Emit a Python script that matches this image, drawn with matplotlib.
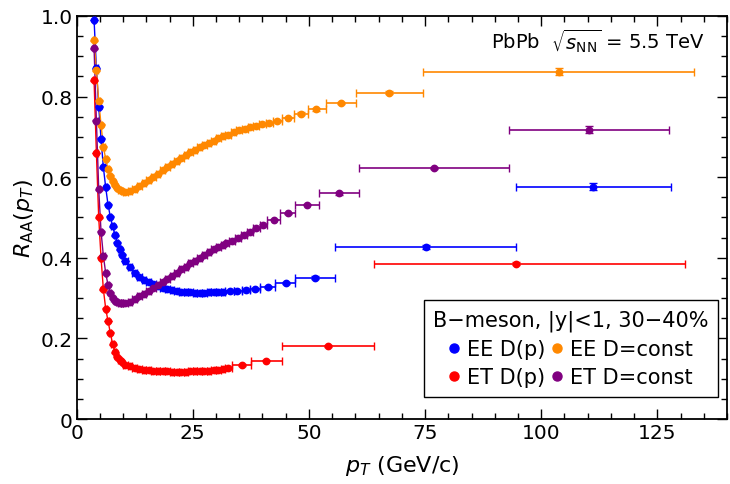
import numpy as np
import matplotlib
matplotlib.use("Agg")
import matplotlib.pyplot as plt
from matplotlib.ticker import MultipleLocator, FixedLocator

# shared fine pT binning (bin centres and half widths)
pt_grid = [3.75, 4.25, 4.75, 5.25, 5.75, 6.25, 6.75, 7.25, 7.75, 8.25, 8.75, 9.25, 9.75,
           10.5, 11.5, 12.5, 13.5, 14.5, 15.5, 16.5, 17.5, 18.5, 19.5, 20.5, 21.5, 22.5,
           23.5, 24.5, 25.5, 26.5, 27.5, 28.5, 29.5, 30.5, 31.5]
grid_half = [0.25] * 13 + [0.5] * 22

# EE D(p)
ee_dp_grid = [0.99, 0.87, 0.775, 0.695, 0.625, 0.575, 0.532, 0.502, 0.478, 0.456, 0.437, 0.421, 0.408,
              0.392, 0.376, 0.363, 0.353, 0.345, 0.339, 0.334, 0.330, 0.326, 0.323, 0.320, 0.318, 0.316,
              0.315, 0.314, 0.313, 0.313, 0.313, 0.314, 0.314, 0.315, 0.316]
ee_dp_pt = [33.0, 34.6, 36.4, 38.4, 41.2, 45.0, 51.4, 75.1, 111.2]
ee_dp_raa = [0.317, 0.318, 0.321, 0.323, 0.328, 0.337, 0.351, 0.427, 0.576]
ee_dp_lo = [32.0, 33.8, 35.5, 37.4, 39.5, 42.8, 47.1, 55.7, 94.5]
ee_dp_hi = [33.8, 35.5, 37.4, 39.5, 42.8, 47.1, 55.7, 94.5, 128.0]
ee_dp_yerr = [0.002, 0.002, 0.002, 0.002, 0.002, 0.003, 0.003, 0.004, 0.009]

# EE D=const
ee_dc_grid = [0.94, 0.865, 0.79, 0.73, 0.676, 0.645, 0.62, 0.604, 0.59, 0.58, 0.573, 0.568, 0.566,
              0.564, 0.566, 0.571, 0.578, 0.585, 0.593, 0.601, 0.609, 0.617, 0.625, 0.633, 0.641, 0.648,
              0.655, 0.662, 0.668, 0.674, 0.680, 0.686, 0.691, 0.697, 0.702]
ee_dc_pt = [32.6, 33.8, 35.0, 36.2, 37.4, 38.7, 40.0, 41.4, 43.2, 45.5, 48.2, 51.6, 56.9, 67.3, 103.8]
ee_dc_raa = [0.705, 0.711, 0.716, 0.720, 0.725, 0.728, 0.731, 0.735, 0.740, 0.748, 0.758, 0.768,
             0.784, 0.810, 0.862]
ee_dc_lo = [32.0, 33.2, 34.4, 35.6, 36.8, 38.0, 39.3, 40.7, 42.2, 44.2, 46.8, 49.7, 53.7, 60.2, 74.6]
ee_dc_hi = [33.2, 34.4, 35.6, 36.8, 38.0, 39.3, 40.7, 42.2, 44.2, 46.8, 49.7, 53.7, 60.2, 74.6, 132.9]
ee_dc_yerr = [0.002] * 10 + [0.003, 0.003, 0.003, 0.004, 0.008]

# ET D(p)
et_dp_grid = [0.84, 0.66, 0.50, 0.40, 0.322, 0.274, 0.243, 0.214, 0.185, 0.166, 0.155, 0.147, 0.141,
              0.135, 0.131, 0.127, 0.124, 0.122, 0.121, 0.120, 0.119, 0.118, 0.118, 0.117, 0.117, 0.117,
              0.117, 0.118, 0.118, 0.119, 0.119, 0.120, 0.121, 0.122, 0.123]
et_dp_pt = [32.6, 35.5, 40.8, 54.2, 94.6]
et_dp_raa = [0.127, 0.134, 0.145, 0.181, 0.385]
et_dp_lo = [32.0, 33.4, 37.6, 44.2, 64.1]
et_dp_hi = [33.4, 37.6, 44.2, 64.1, 131.0]
et_dp_yerr = [0.002, 0.002, 0.002, 0.003, 0.004]

# ET D=const
et_dc_grid = [0.92, 0.74, 0.57, 0.465, 0.405, 0.362, 0.333, 0.313, 0.300, 0.294, 0.290, 0.288, 0.287,
              0.288, 0.291, 0.297, 0.304, 0.311, 0.318, 0.325, 0.333, 0.340, 0.348, 0.356, 0.363, 0.371,
              0.378, 0.386, 0.393, 0.400, 0.407, 0.414, 0.421, 0.426, 0.431]
et_dc_pt = [32.2, 33.4, 34.7, 36.0, 37.3, 38.7, 40.2, 42.4, 45.4, 49.6, 56.4, 76.9, 110.3]
et_dc_raa = [0.436, 0.441, 0.448, 0.456, 0.465, 0.473, 0.482, 0.495, 0.510, 0.532, 0.560, 0.623, 0.718]
et_dc_lo = [32.0, 32.8, 34.0, 35.4, 36.6, 38.0, 39.4, 41.0, 43.8, 47.1, 52.2, 60.7, 93.1]
et_dc_hi = [32.8, 34.0, 35.4, 36.6, 38.0, 39.4, 41.0, 43.8, 47.1, 52.2, 60.7, 93.1, 127.6]
et_dc_yerr = [0.002] * 10 + [0.003, 0.003, 0.009]

series = [
    ("EE D(p)", "#0000ff", ee_dp_grid, ee_dp_pt, ee_dp_raa, ee_dp_lo, ee_dp_hi, ee_dp_yerr),
    ("ET D(p)", "#ff0000", et_dp_grid, et_dp_pt, et_dp_raa, et_dp_lo, et_dp_hi, et_dp_yerr),
    ("EE D=const", "#ff8800", ee_dc_grid, ee_dc_pt, ee_dc_raa, ee_dc_lo, ee_dc_hi, ee_dc_yerr),
    ("ET D=const", "#800080", et_dc_grid, et_dc_pt, et_dc_raa, et_dc_lo, et_dc_hi, et_dc_yerr),
]

fig = plt.figure(figsize=(7.3, 4.85), dpi=100)
ax = fig.add_axes([0.105, 0.134, 0.891, 0.831])

handles = []
for label, col, grid, pt, raa, lo, hi, yerr in series:
    ax.plot(pt_grid, grid, "-", color=col, lw=1.0, zorder=2)
    x = np.array(pt_grid + pt)
    y = np.array(grid + raa)
    xl = np.array(grid_half + list(np.array(pt) - np.array(lo)))
    xh = np.array(grid_half + list(np.array(hi) - np.array(pt)))
    ye = np.array([0.001] * len(pt_grid) + yerr)
    ax.errorbar(x, y, xerr=[xl, xh], yerr=ye, fmt="o", color=col, ms=4.6,
                elinewidth=1.2, capsize=3, capthick=1.0, zorder=3)
    h, = ax.plot([], [], "o", color=col, ms=6.5, label=label)
    handles.append(h)

ax.set_xlim(0, 140)
ax.set_ylim(0, 1.0)
ax.xaxis.set_major_locator(FixedLocator([0, 25, 50, 75, 100, 125]))
ax.xaxis.set_minor_locator(MultipleLocator(5))
ax.yaxis.set_major_locator(FixedLocator([0, 0.2, 0.4, 0.6, 0.8, 1.0]))
ax.yaxis.set_minor_locator(MultipleLocator(0.05))
ax.set_yticklabels(["0", "0.2", "0.4", "0.6", "0.8", "1.0"])
ax.tick_params(which="both", direction="in", top=True, right=True, width=1.0)
ax.tick_params(which="major", length=7, pad=3, labelsize=14.5)
ax.tick_params(which="minor", length=4)
for s in ax.spines.values():
    s.set_linewidth(1.3)

ax.set_xlabel(r"$p_T$ (GeV/c)", fontsize=16, labelpad=8)
ax.set_ylabel(r"$R_{\rm AA}(p_T)$", fontsize=16, labelpad=3)

ax.text(0.965, 0.94, r"PbPb  $\sqrt{s_{\rm NN}}$ = 5.5 TeV", transform=ax.transAxes,
        ha="right", va="center", fontsize=14)

leg = ax.legend(handles=handles, ncol=2, loc="lower right", bbox_to_anchor=(0.986, 0.055),
                borderaxespad=0,
                title="B\u2212meson, |y|<1, 30\u221240%", fontsize=15, title_fontsize=15,
                frameon=True, fancybox=False, edgecolor="black", framealpha=1,
                handlelength=0.5, handletextpad=0.4, columnspacing=0.3,
                labelspacing=0.4, borderpad=0.45)
leg.get_frame().set_linewidth(1.0)

fig.savefig("out.png", dpi=100)
